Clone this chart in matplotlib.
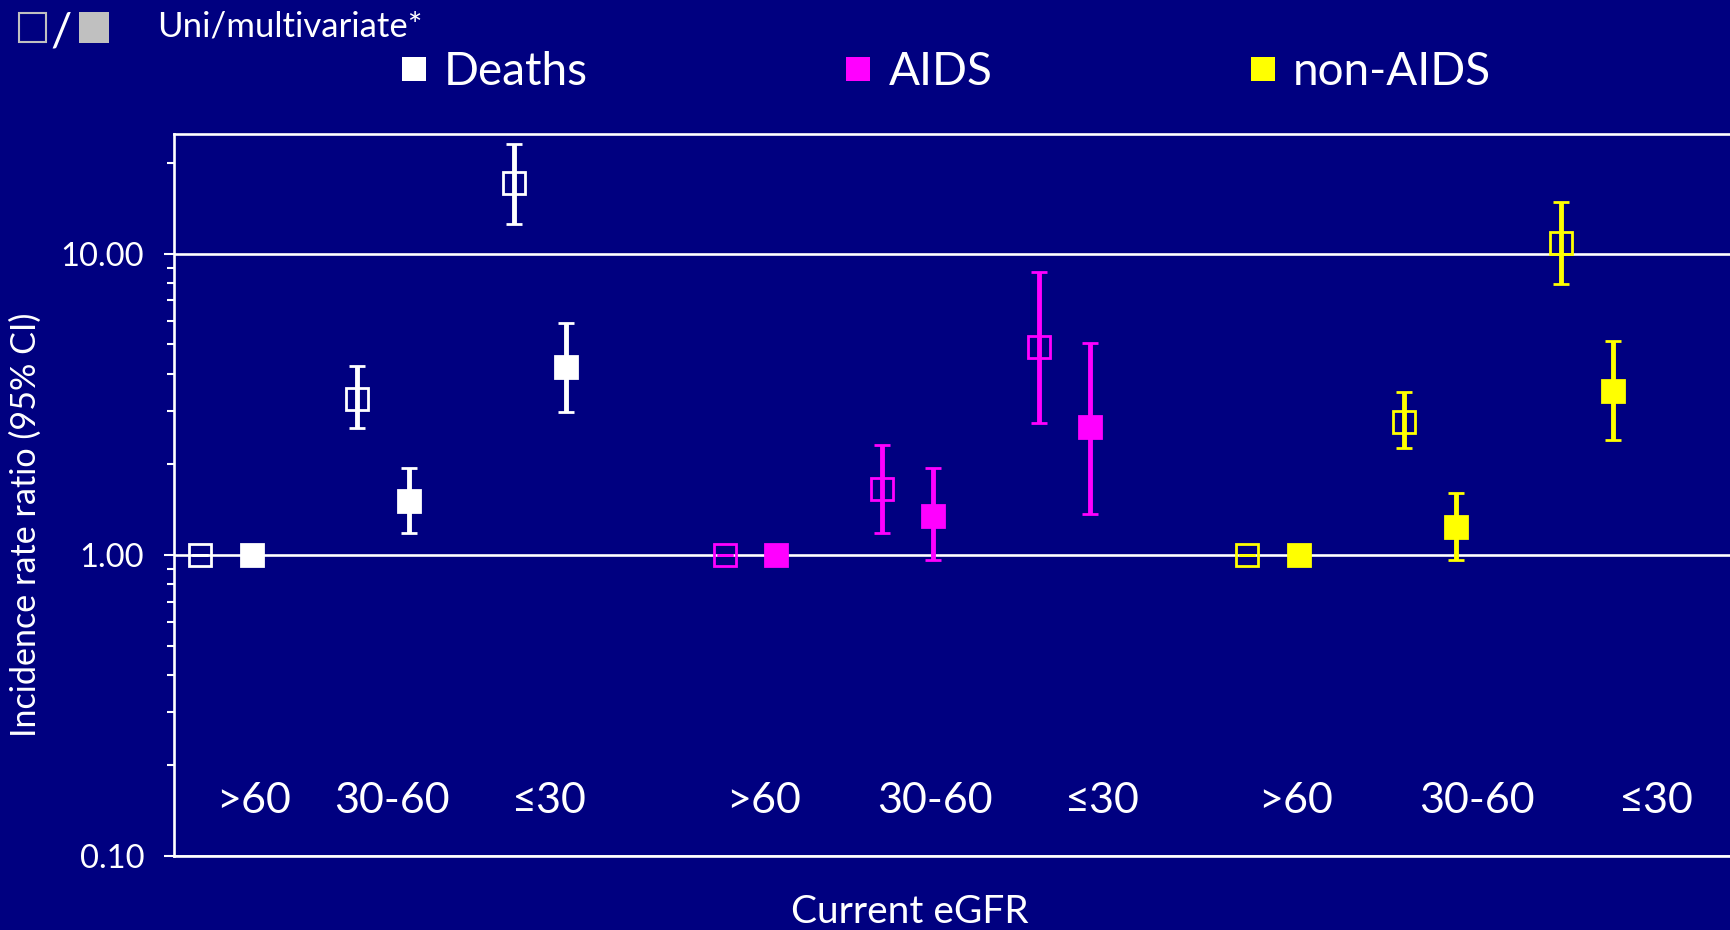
import numpy as np
import matplotlib
matplotlib.use('Agg')
import matplotlib.pyplot as plt
from matplotlib.patches import Rectangle
from matplotlib.lines import Line2D
from matplotlib.ticker import FixedLocator, FormatStrFormatter, NullFormatter, LogLocator

plt.rcParams['font.family'] = ['Lato', 'DejaVu Sans']

# ---------------- data ----------------
categories = ['>60', '30-60', '≤30']
outcomes = ['Deaths', 'AIDS', 'non-AIDS']

deaths_uni = [1.0, 3.30, 17.2]
deaths_uni_lo = [1.0, 2.64, 12.6]
deaths_uni_hi = [1.0, 4.23, 23.2]
deaths_multi = [1.0, 1.51, 4.20]
deaths_multi_lo = [1.0, 1.18, 2.99]
deaths_multi_hi = [1.0, 1.94, 5.89]

aids_uni = [1.0, 1.65, 4.89]
aids_uni_lo = [1.0, 1.18, 2.74]
aids_uni_hi = [1.0, 2.31, 8.70]
aids_multi = [1.0, 1.35, 2.65]
aids_multi_lo = [1.0, 0.965, 1.37]
aids_multi_hi = [1.0, 1.94, 5.04]

nonaids_uni = [1.0, 2.77, 10.9]
nonaids_uni_lo = [1.0, 2.26, 7.95]
nonaids_uni_hi = [1.0, 3.48, 14.9]
nonaids_multi = [1.0, 1.24, 3.51]
nonaids_multi_lo = [1.0, 0.965, 2.41]
nonaids_multi_hi = [1.0, 1.60, 5.15]

yticks = [0.1, 1, 10]

# ---------------- style ----------------
NAVY = '#000080'
colors = ['#FFFFFF', '#FF00FF', '#FFFF00']
W, H = 1731, 930

fig = plt.figure(figsize=(W / 100, H / 100), dpi=100, facecolor=NAVY)
ax = fig.add_axes([174 / W, 1 - 856 / H, 1 - 174 / W, (856 - 134) / H])
ax.set_facecolor(NAVY)
ax.set_yscale('log')
ax.set_ylim(0.1, 25)
ax.set_xlim(-0.166, 9.75)
ax.set_axisbelow(True)

group_offset = [0.0, 3.34, 6.67]
pair_shift = 0.33

series = [
    (deaths_uni, deaths_uni_lo, deaths_uni_hi, deaths_multi, deaths_multi_lo, deaths_multi_hi),
    (aids_uni, aids_uni_lo, aids_uni_hi, aids_multi, aids_multi_lo, aids_multi_hi),
    (nonaids_uni, nonaids_uni_lo, nonaids_uni_hi, nonaids_multi, nonaids_multi_lo, nonaids_multi_hi),
]

for g, (u, ulo, uhi, m, mlo, mhi) in enumerate(series):
    c = colors[g]
    xu = np.arange(len(categories)) + group_offset[g]
    xm = xu + pair_shift
    u, ulo, uhi = np.array(u), np.array(ulo), np.array(uhi)
    m, mlo, mhi = np.array(m), np.array(mlo), np.array(mhi)
    ax.errorbar(xu, u, yerr=[u - ulo, uhi - u], fmt='s', ms=15.2, mew=2.0,
                mfc='none', mec=c, ecolor=c, elinewidth=3.5, capsize=5.8,
                capthick=3.5, zorder=3)
    ax.errorbar(xm, m, yerr=[m - mlo, mhi - m], fmt='s', ms=15.2, mew=2.0,
                mfc=c, mec=c, ecolor=c, elinewidth=3.5, capsize=5.8,
                capthick=3.5, zorder=3)

# axes styling
for s in ['left', 'top', 'bottom']:
    ax.spines[s].set_color('white')
    ax.spines[s].set_linewidth(1.9)
ax.spines['right'].set_visible(False)
ax.yaxis.set_major_locator(FixedLocator(yticks))
ax.yaxis.set_major_formatter(FormatStrFormatter('%.2f'))
ax.yaxis.set_minor_locator(LogLocator(base=10, subs=np.arange(2, 10)))
ax.yaxis.set_minor_formatter(NullFormatter())
ax.tick_params(axis='y', which='major', direction='out', length=7, width=1.5,
               colors='white', labelsize=23.5, pad=14.5)
ax.tick_params(axis='y', which='minor', direction='out', length=5, width=1.5,
               colors='white')
ax.tick_params(axis='x', which='both', bottom=False, labelbottom=False)
ax.yaxis.grid(True, which='major', color='white', linewidth=1.9)

# category labels
label_x = [0.34, 1.22, 2.22, 3.59, 4.68, 5.74, 6.98, 8.13, 9.27]
for i, lx in enumerate(label_x):
    ax.text(lx, 0.0596, categories[i % 3], transform=ax.get_xaxis_transform(),
            ha='center', va='baseline', fontsize=31, color='white')

# axis titles
fig.text(26 / W, 1 - 525 / H, 'Incidence rate ratio (95% CI)', rotation=90,
         ha='center', va='center', fontsize=24.6, color='white')
fig.text(910 / W, 0.0, 'Current eGFR', ha='center', va='bottom',
         fontsize=28, color='white')

# legend
handles = [Line2D([], [], ls='', marker='s', ms=17.6, mew=0, color=c) for c in colors]
fig.legend(handles, outcomes, ncol=3, loc='center left',
           bbox_to_anchor=(400 / W, 1 - 72 / H), frameon=False, fontsize=33,
           handlelength=0.6, handletextpad=0.36, columnspacing=5.6,
           borderpad=0, borderaxespad=0, labelcolor='white')

# uni/multivariate key
fig.patches.append(Rectangle((19 / W, 1 - 42 / H), 27 / W, 29 / H, transform=fig.transFigure,
                             facecolor='none', edgecolor='#C0C0C0', linewidth=1.5))
fig.patches.append(Rectangle((79 / W, 1 - 43 / H), 30 / W, 31 / H, transform=fig.transFigure,
                             facecolor='#C0C0C0', edgecolor='none'))
fig.text(61 / W, 1 - 33 / H, '/', ha='center', va='center', fontsize=34, color='white')
fig.text(157 / W, 1 - 37 / H, 'Uni/multivariate*', ha='left', va='baseline',
         fontsize=25, color='white')

fig.savefig('out.png', dpi=100, facecolor=NAVY)
